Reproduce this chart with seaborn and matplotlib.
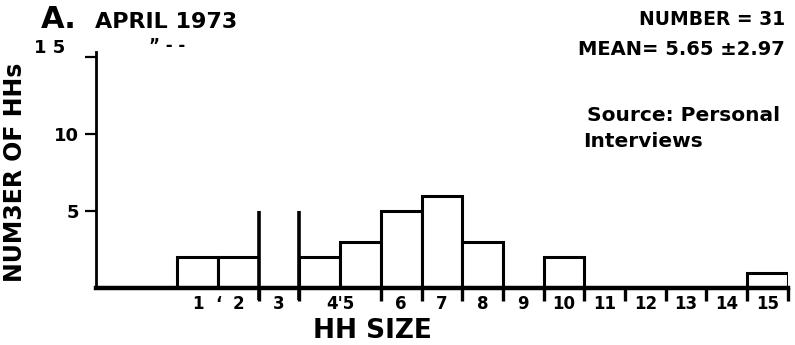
import matplotlib
matplotlib.use("Agg")
import matplotlib.pyplot as plt
import matplotlib.transforms as mtransforms
import seaborn as sns
import pandas as pd

# Household size histogram, April 1973
hh_size = [1, 2, 3, 4, 5, 6, 7, 8, 9, 10, 11, 12, 13, 14, 15]
num_hhs = [2, 2, 5, 2, 3, 5, 6, 3, 0, 2, 0, 0, 0, 0, 1]
open_top_size = 3  # the top edge of this bar is missing in the scan

x_tick_pos = [1, 1.5, 2, 3, 4.5, 6, 7, 8, 9, 10, 11, 12, 13, 14, 15]
x_tick_labels = ["1", "‘", "2", "3", "4'5", "6", "7", "8", "9", "10",
                 "11", "12", "13", "14", "15"]
bin_edges = [2.5, 3.5, 4.5, 5.5, 6.5, 7.5, 8.5, 9.5, 10.5, 11.5, 12.5, 13.5, 14.5, 15.5]
y_ticks = [5, 10, 15]
y_tick_labels = ["5", "10", "1 5"]


def make_chart():
    sns.set_style("ticks")
    plt.rcParams["font.family"] = ["DejaVu Sans"]
    plt.rcParams["font.weight"] = "bold"
    for key in ["text.color", "axes.labelcolor", "xtick.color",
                "ytick.color", "axes.edgecolor"]:
        plt.rcParams[key] = "black"

    df = pd.DataFrame({"size": hh_size, "count": num_hhs})

    fig = plt.figure(figsize=(7.95, 3.45), dpi=100)
    ax = fig.add_axes([0.1208, 0.165, 0.870, 0.684])

    sns.barplot(x="size", y="count", data=df, native_scale=True, width=1,
                color="white", edgecolor="black", linewidth=2.2,
                errorbar=None, ax=ax)

    # bar with the lost top: keep only its two sides, running below the axis
    bar = ax.patches[hh_size.index(open_top_size)]
    bar.set_edgecolor("none")
    x0 = bar.get_x()
    ax.vlines([x0, x0 + bar.get_width()], -0.8, bar.get_height(),
              colors="black", linewidth=2.6, clip_on=False)

    ax.set_xlim(-1.5, 15.5)
    ax.set_ylim(0, 15.3)

    sns.despine(ax=ax)
    ax.spines["left"].set_linewidth(2)
    ax.spines["bottom"].set_linewidth(3.2)

    ax.set_yticks(y_ticks)
    ax.set_yticklabels(y_tick_labels, fontsize=13, fontweight="bold")
    ax.tick_params(axis="y", length=8, width=1.6, pad=4)
    # the top label sits a little higher and further left in the scan
    top_lbl = ax.get_yticklabels()[-1]
    top_lbl.set_transform(top_lbl.get_transform() +
                          mtransforms.ScaledTranslation(-10 / 72, 8 / 72, fig.dpi_scale_trans))

    ax.set_xticks(x_tick_pos)
    ax.set_xticklabels(x_tick_labels, fontsize=12, fontweight="bold")
    ax.set_xticks(bin_edges, minor=True)
    ax.tick_params(axis="x", which="major", length=0, pad=5)
    ax.tick_params(axis="x", which="minor", length=9, width=2.4)

    ax.set_xlabel("HH SIZE", fontsize=19, fontweight="bold")
    ax.xaxis.set_label_coords(0.40, -0.125)
    ax.set_ylabel("NUM3ER OF HHs", fontsize=17, fontweight="bold")
    ax.yaxis.set_label_coords(-0.10, 0.49)

    # header texts
    fig.text(0.052, 0.919, "A.", fontsize=22, fontweight="heavy", va="baseline")
    fig.text(0.119, 0.919, "APRIL 1973", fontsize=16, fontweight="bold", va="baseline")
    fig.text(0.187, 0.853, "” - -", fontsize=12, fontweight="bold", va="baseline")
    fig.text(0.987, 0.928, "NUMBER = 31", fontsize=13.5, fontweight="bold",
             ha="right", va="baseline")
    fig.text(0.987, 0.841, "MEAN= 5.65 ±2.97", fontsize=14, fontweight="bold",
             ha="right", va="baseline")
    fig.text(0.738, 0.648, "Source: Personal", fontsize=14.5, fontweight="bold",
             va="baseline")
    fig.text(0.733, 0.575, "Interviews", fontsize=14.5, fontweight="bold",
             va="baseline")

    fig.savefig("out.png", dpi=100)
    plt.close(fig)


if __name__ == "__main__":
    make_chart()
